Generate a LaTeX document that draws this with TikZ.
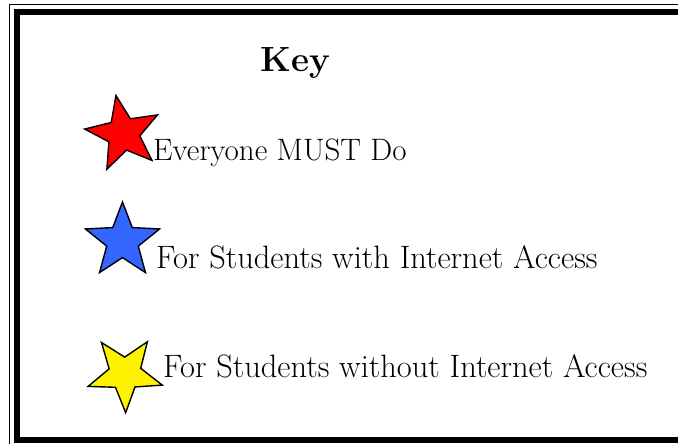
\documentclass[tikz,border=0pt]{standalone}
\usepackage{fontspec}
\usepackage{tikz}
\usetikzlibrary{shapes.geometric}
\definecolor{keyblue}{RGB}{51,102,255}
\tikzset{
  keytext/.style={font=\fontsize{32.4}{39}\selectfont, inner sep=0pt},
  keystar/.style={star, star points=5, star point ratio=2.35, minimum size=78pt,
    inner sep=0pt, draw=black, line width=1.4pt}
}

\begin{document}
\begin{tikzpicture}[x=1pt,y=-1pt]
\useasboundingbox[fill=white] (0,0) rectangle (678,444);

\draw[line width=1.3pt] (678,4.5) -| (9.5,444);
\draw[line width=6.5pt] (678,12) -| (16.75,440) -- (678,440);

\node[keytext, anchor=base, font=\fontsize{35}{42}\selectfont\bfseries] (key) at (295,72) {Key};

\node[keystar, fill=red, rotate=11] (redstar) at (123.4,133.8) {};
\node[keytext, anchor=base west, font=\fontsize{31}{37}\selectfont] (must) at (153,160) {Everyone MUST Do};

\node[keystar, fill=keyblue] (bluestar) at (122.5,241) {};
\node[keytext, anchor=base west] (online) at (156,268) {For Students with Internet Access};

\node[keystar, fill=yellow, rotate=181] (yellowstar) at (125,373.7) {};
\node[keytext, anchor=base west] (offline) at (163,377) {For Students without Internet Access};
\end{tikzpicture}
\end{document}
